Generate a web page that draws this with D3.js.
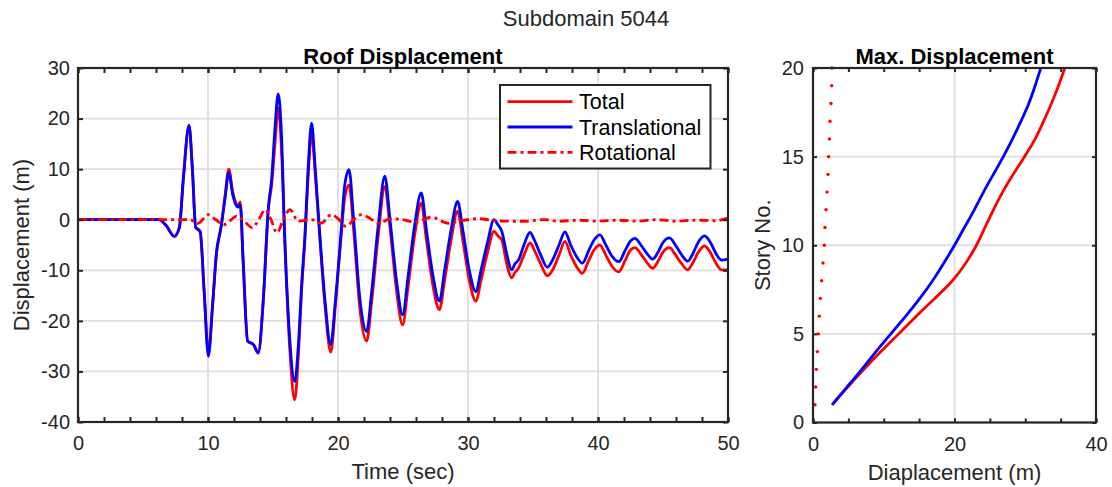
<!DOCTYPE html>
<html>
<head>
<meta charset="utf-8">
<script src="https://cdn.jsdelivr.net/npm/d3@7"></script>
<style>
  body { margin: 0; background: #fff; }
  svg { display: block; font-family: "Liberation Sans", Arial, Helvetica, sans-serif; }
</style>
</head>
<body>
<svg id="chart" width="1112" height="487"></svg>
<script>
// ---- Roof displacement time history (m) ----
const timeSec = [0, 6.2, 6.8, 7.4, 7.8, 8.1, 8.54, 8.8, 9.05, 9.4, 9.7, 10.03, 10.35, 10.65, 11.0, 11.3, 11.6, 11.9, 12.1, 12.3, 12.48, 12.7, 13.05, 13.5, 13.87, 14.25, 14.64, 14.9, 15.15, 15.4, 15.65, 15.9, 16.3, 16.67, 16.97, 17.2, 17.46, 17.7, 17.97, 18.25, 18.6, 19.0, 19.44, 19.8, 20.28, 20.5, 20.85, 21.2, 21.7, 22.2, 22.6, 23.1, 23.6, 24.0, 24.5, 24.97, 25.4, 25.9, 26.4, 26.8, 27.3, 27.8, 28.2, 28.7, 29.2, 29.6, 30.1, 30.6, 31.0, 31.5, 32.0, 32.3, 32.6, 33.0, 33.36, 33.6, 33.9, 34.3, 34.77, 35.1, 35.6, 36.1, 36.5, 37.0, 37.46, 37.9, 38.4, 38.8, 39.3, 39.7, 40.15, 40.6, 41.1, 41.6, 42.1, 42.5, 42.85, 43.3, 43.8, 44.2, 44.6, 45.0, 45.5, 45.9, 46.4, 46.9, 47.3, 47.7, 48.2, 48.6, 49.1, 49.5, 50];

const translational = [0, 0, -1.2, -3.3, -1.5, 8, 18.7, 10, -1.5, -2.3, -14, -27, -17, -6.5, -1.5, 4, 9.3, 5, 3.2, 2.5, 3, -8, -24, -24.7, -26.4, -16, 2.3, 8.2, 18, 24.9, 17, -3, -24, -32, -24, -13, -3, 10, 19.1, 10, -3, -16, -24.7, -16, -1, 6.5, 9.9, 0, -16, -22.1, -14, -1, 8.6, 0, -12, -18.8, -11, -1, 5.3, -2, -11, -16.1, -10, -2, 3.6, -2, -10, -14.2, -10, -4.5, 0, -1, -2.3, -7, -9.9, -8.8, -7.9, -5, -2.5, -4, -7, -9.4, -8, -5, -2.4, -5, -7.5, -8.6, -6, -4, -3, -5, -7.3, -8.3, -6, -4.2, -3.7, -5, -6.8, -7.8, -6.5, -4.5, -3.6, -4.8, -6.8, -8.2, -6.7, -4.5, -3.2, -4.3, -6.8, -8, -7.8];

const total = [0, 0, -1.2, -3.3, -1.5, 8, 18.5, 10, -1.5, -2.5, -14, -26.2, -17, -6.8, -1.5, 4.5, 10, 5.5, 3.6, 2.8, 3.5, -8, -24, -24.7, -26.2, -16, 2, 7, 15, 22.1, 14, -4, -26, -35.6, -26, -14, -3.5, 8.5, 17.1, 9, -3.5, -17, -26.2, -17, -2, 4, 6.9, -2, -18, -24, -16, -3, 6.6, -1.5, -14, -20.8, -13, -3, 3.3, -4, -13, -17.8, -12, -4, 1.7, -4, -12, -16.1, -12, -6.5, -2.3, -3.2, -4, -9, -11.5, -10.5, -9.5, -7, -4.6, -6, -8.8, -11.1, -10, -7, -4.3, -7, -9.5, -10.6, -8, -6, -5, -7, -9.3, -10.3, -8, -6, -5.5, -6.8, -8.6, -9.6, -8.3, -6.4, -5.5, -6.7, -8.6, -9.9, -8.5, -6.5, -5.2, -6.3, -8.7, -9.9, -9.9];

const rotTime = [0, 8.0, 8.6, 9.25, 10.0, 10.6, 11.2, 11.7, 12.2, 12.95, 13.4, 13.9, 14.4, 14.85, 15.3, 15.8, 16.3, 16.95, 17.97, 18.7, 19.5, 20.0, 20.6, 21.2, 21.8, 22.5, 23.1, 24.1, 25.0, 25.9, 27.2, 28.5, 29.3, 30.8, 32.1, 33.3, 34.4, 35.9, 37.0, 38.5, 40.0, 41.5, 43.0, 44.5, 46.0, 47.5, 49.0, 50];
const rotational = [0, 0, 0, -0.7, 1.0, 0, -1.0, -0.2, 0.7, -0.7, -1.6, 0, 2.0, 0, -2.6, 0, 2.0, -0.3, 0, -0.7, 1.0, 0.2, -1.3, 0, 1.0, 0.2, -0.7, 0.2, 0, -0.5, 0.5, -0.7, -0.3, 0.2, -0.2, -0.3, -0.3, 0, -0.3, -0.1, -0.3, -0.1, -0.3, 0, -0.3, -0.1, -0.2, 0.3];

// ---- Peak displacement envelope per story (m) ----
const stories = [1, 2, 3, 4, 5, 6, 7, 8, 9, 10, 11, 12, 13, 14, 15, 16, 17, 18, 19, 20];
const maxTotal = [2.7, 4.9, 7.2, 9.6, 12.1, 14.6, 17.2, 19.7, 21.6, 23.1, 24.3, 25.5, 26.8, 28.3, 29.9, 31.4, 32.6, 33.7, 34.7, 35.6];
const maxTranslational = [2.7, 4.8, 6.9, 8.9, 11.0, 13.1, 15.1, 16.9, 18.5, 20.0, 21.4, 22.8, 24.1, 25.5, 26.9, 28.2, 29.4, 30.5, 31.4, 32.2];
const maxRotational = [0.28, 0.38, 0.47, 0.61, 0.75, 0.89, 1.04, 1.22, 1.41, 1.6, 1.69, 1.84, 1.98, 2.12, 2.21, 2.31, 2.4, 2.54, 2.64, 2.68];

// ---- Tick labels ----
const timeTicks = [0, 10, 20, 30, 40, 50];
const dispTicks = [-40, -30, -20, -10, 0, 10, 20, 30];
const envDispTicks = [0, 20, 40];
const storyTicks = [0, 5, 10, 15, 20];

const legendItems = ["Total", "Translational", "Rotational"];

// ---- Styles ----
const RED = "#ff0000", BLUE = "#0000ff";
const AXIS = "#262626", GRID = "#dedede";
const TICK_FONT = 20, LABEL_FONT = 22;
const DASHDOT = "9,4,3,4";
const plainNumber = d => String(d); // hyphen-minus, as printed on the axes

const svg = d3.select("#chart");
svg.append("rect").attr("width", 1112).attr("height", 487).attr("fill", "#fff");

// overall heading
svg.append("text")
  .attr("x", 586).attr("y", 26)
  .attr("text-anchor", "middle")
  .attr("font-size", 22).attr("fill", AXIS)
  .text("Subdomain 5044");

// Light grid behind the data
function drawGrid(g, x, y, cfg) {
  const [x0, x1] = x.range();
  const [y0, y1] = y.range();
  g.append("g").selectAll("line").data(cfg.xTicks).join("line")
    .attr("x1", d => x(d)).attr("x2", d => x(d))
    .attr("y1", y1).attr("y2", y0)
    .attr("stroke", GRID).attr("stroke-width", 1.8);
  g.append("g").selectAll("line").data(cfg.yTicks).join("line")
    .attr("x1", x0).attr("x2", x1)
    .attr("y1", d => y(d)).attr("y2", d => y(d))
    .attr("stroke", GRID).attr("stroke-width", 1.8);
}

// Box, inward ticks, tick labels, title and axis labels
function drawAxes(g, x, y, cfg) {
  const [x0, x1] = x.range();
  const [y0, y1] = y.range();
  const tl = cfg.tickLen;

  const styleAxis = sel => {
    sel.select(".domain").remove();
    sel.selectAll(".tick line").attr("stroke", AXIS).attr("stroke-width", 2);
    sel.selectAll(".tick text").attr("fill", AXIS)
      .attr("font-size", TICK_FONT)
      .attr("font-family", "\"Liberation Sans\", Arial, sans-serif");
    sel.attr("font-family", null).attr("font-size", null);
  };

  // minor ticks
  g.append("g").attr("transform", `translate(0,${y0})`)
    .call(d3.axisBottom(x).tickValues(cfg.xMinor).tickFormat("").tickSizeInner(-tl).tickSizeOuter(0))
    .call(styleAxis);
  g.append("g").attr("transform", `translate(0,${y1})`)
    .call(d3.axisTop(x).tickValues(cfg.xMinor).tickFormat("").tickSizeInner(-tl).tickSizeOuter(0))
    .call(styleAxis);

  // major ticks with labels
  g.append("g").attr("transform", `translate(0,${y0})`)
    .call(d3.axisBottom(x).tickValues(cfg.xTicks).tickFormat(plainNumber).tickSizeInner(-tl).tickSizeOuter(0).tickPadding(14))
    .call(styleAxis);
  g.append("g").attr("transform", `translate(0,${y1})`)
    .call(d3.axisTop(x).tickValues(cfg.xTicks).tickFormat("").tickSizeInner(-tl).tickSizeOuter(0))
    .call(styleAxis);
  g.append("g").attr("transform", `translate(${x0},0)`)
    .call(d3.axisLeft(y).tickValues(cfg.yTicks).tickFormat(plainNumber).tickSizeInner(-tl).tickSizeOuter(0).tickPadding(cfg.yPad))
    .call(styleAxis);
  g.append("g").attr("transform", `translate(${x1},0)`)
    .call(d3.axisRight(y).tickValues(cfg.yTicks).tickFormat("").tickSizeInner(-tl).tickSizeOuter(0))
    .call(styleAxis);

  // box
  g.append("rect")
    .attr("x", x0).attr("y", y1)
    .attr("width", x1 - x0).attr("height", y0 - y1)
    .attr("fill", "none").attr("stroke", AXIS).attr("stroke-width", 2.2);

  // title
  g.append("text")
    .attr("x", (x0 + x1) / 2).attr("y", y1 - 4.5)
    .attr("text-anchor", "middle")
    .attr("font-size", 22).attr("font-weight", "bold").attr("fill", "#000")
    .text(cfg.title);

  // axis labels
  g.append("text")
    .attr("x", (x0 + x1) / 2).attr("y", y0 + 57)
    .attr("text-anchor", "middle")
    .attr("font-size", LABEL_FONT).attr("fill", AXIS)
    .text(cfg.xLabel);
  g.append("text")
    .attr("transform", `translate(${cfg.yLabelX},${(y0 + y1) / 2}) rotate(-90)`)
    .attr("text-anchor", "middle")
    .attr("font-size", LABEL_FONT).attr("fill", AXIS)
    .text(cfg.yLabel);
}

// ---------- Left panel: roof displacement ----------
{
  const x = d3.scaleLinear().domain([0, 50]).range([78, 728]);
  const y = d3.scaleLinear().domain([-40, 30]).range([422, 68]);
  const g = svg.append("g");

  drawGrid(g, x, y, { xTicks: timeTicks, yTicks: dispTicks });

  g.append("clipPath").attr("id", "clipRoof")
    .append("rect").attr("x", 78).attr("y", 68).attr("width", 650).attr("height", 354);

  const plot = g.append("g").attr("clip-path", "url(#clipRoof)");
  const line = d3.line().x(d => x(d[0])).y(d => y(d[1])).curve(d3.curveMonotoneX);

  plot.append("path")
    .attr("d", line(timeSec.map((t, i) => [t, total[i]])))
    .attr("fill", "none").attr("stroke", RED).attr("stroke-width", 2.8)
    .attr("stroke-linejoin", "round");
  plot.append("path")
    .attr("d", line(timeSec.map((t, i) => [t, translational[i]])))
    .attr("fill", "none").attr("stroke", BLUE).attr("stroke-width", 2.8)
    .attr("stroke-linejoin", "round");
  plot.append("path")
    .attr("d", line(rotTime.map((t, i) => [t, rotational[i]])))
    .attr("fill", "none").attr("stroke", RED).attr("stroke-width", 2.8)
    .attr("stroke-dasharray", DASHDOT);

  drawAxes(g, x, y, {
    xTicks: timeTicks, yTicks: dispTicks,
    xMinor: x.ticks(25), tickLen: 5, yPad: 8,
    title: "Roof Displacement", xLabel: "Time (sec)", yLabel: "Displacement (m)",
    yLabelX: 29
  });

  // legend
  const lg = g.append("g");
  lg.append("rect")
    .attr("x", 500).attr("y", 85).attr("width", 210.5).attr("height", 83.5)
    .attr("fill", "#fff").attr("stroke", AXIS).attr("stroke-width", 2);
  const styles = [
    { color: RED, dash: null },
    { color: BLUE, dash: null },
    { color: RED, dash: DASHDOT }
  ];
  legendItems.forEach((name, i) => {
    const cy = 101.7 + i * 25.3;
    lg.append("line")
      .attr("x1", 507.5).attr("x2", 572.5).attr("y1", cy).attr("y2", cy)
      .attr("stroke", styles[i].color).attr("stroke-width", 2.8)
      .attr("stroke-dasharray", styles[i].dash);
    lg.append("text")
      .attr("x", 579).attr("y", cy).attr("dy", "0.35em")
      .attr("font-size", 21.5).attr("fill", "#000")
      .text(name);
  });
}

// ---------- Right panel: peak displacement envelope ----------
{
  const x = d3.scaleLinear().domain([0, 40]).range([813, 1096]);
  const y = d3.scaleLinear().domain([0, 20]).range([422.5, 68]);
  const g = svg.append("g");

  drawGrid(g, x, y, { xTicks: envDispTicks, yTicks: storyTicks });

  const line = d3.line().x(d => x(d[0])).y(d => y(d[1])).curve(d3.curveNatural);

  g.append("path")
    .attr("d", line(stories.map((s, i) => [maxTotal[i], s])))
    .attr("fill", "none").attr("stroke", RED).attr("stroke-width", 2.8);
  g.append("path")
    .attr("d", line(stories.map((s, i) => [maxTranslational[i], s])))
    .attr("fill", "none").attr("stroke", BLUE).attr("stroke-width", 2.8);
  g.append("g").selectAll("circle").data(stories).join("circle")
    .attr("cx", (s, i) => x(maxRotational[i]))
    .attr("cy", s => y(s))
    .attr("r", 1.7)
    .attr("fill", RED);

  drawAxes(g, x, y, {
    xTicks: envDispTicks, yTicks: storyTicks,
    xMinor: x.ticks(8), tickLen: 4, yPad: 9,
    title: "Max. Displacement", xLabel: "Diaplacement (m)", yLabel: "Story No.",
    yLabelX: 770
  });
}
</script>
</body>
</html>
